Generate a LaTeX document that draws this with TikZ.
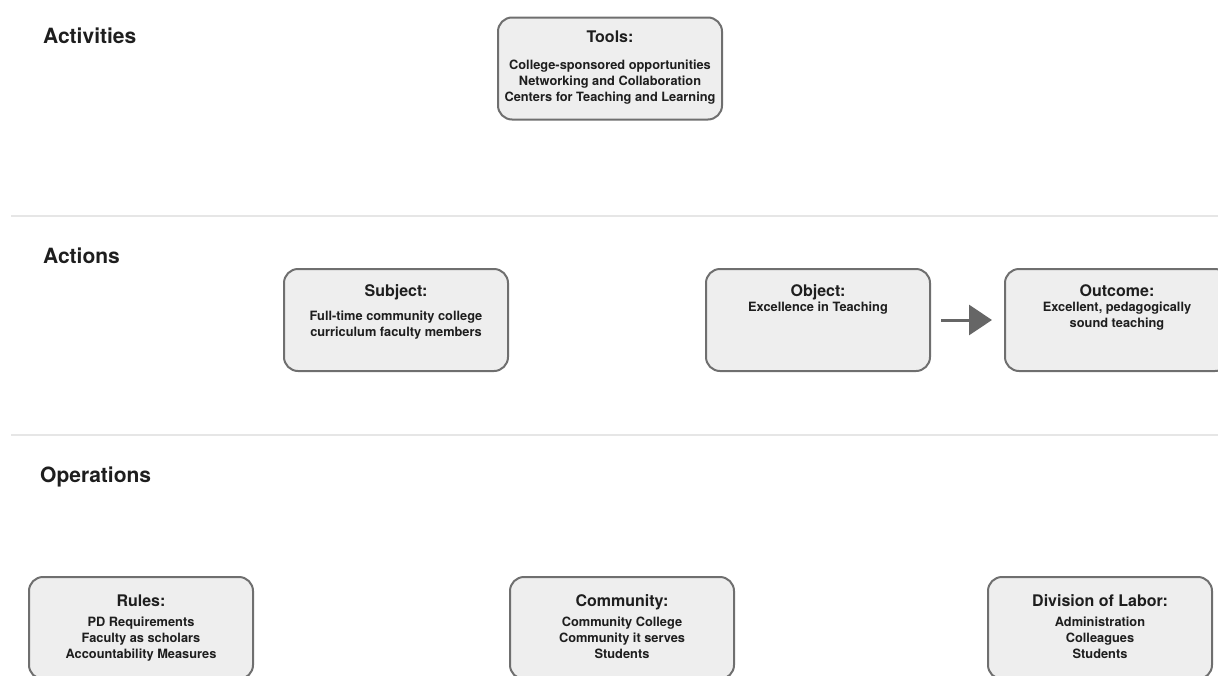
\documentclass[tikz,border=0pt]{standalone}
\usepackage{fontspec}
\setmainfont{TeX Gyre Heros}
\usetikzlibrary{arrows.meta}
\definecolor{boxfill}{HTML}{EEEEEE}
\definecolor{boxline}{HTML}{6F6F6F}
\definecolor{rulegray}{HTML}{E6E6E6}
\definecolor{arrowgray}{HTML}{666666}
\definecolor{inkgray}{HTML}{1E1E1E}

\begin{document}
\begin{tikzpicture}[x=1pt, y=-1pt,
		every node/.style={text=inkgray},
		actbox/.style={draw=boxline, fill=boxfill, line width=2pt,
			rounded corners=14pt, minimum width=224pt, minimum height=102pt},
		boxtitle/.style={anchor=base, inner sep=0pt,
			font=\fontsize{16}{19}\bfseries\selectfont},
		boxbody/.style={anchor=north, inner sep=0pt, align=center,
			font=\fontsize{12.8}{16}\bfseries\selectfont},
		level/.style={anchor=base west, inner sep=0pt,
			font=\fontsize{21}{25}\bfseries\selectfont},
		divider/.style={draw=rulegray, line width=2pt}]

		% The page is measured in pixels of the reference, y down.
		\clip (0,0) rectangle (1218,675);

		% Levels of the activity system and the lines between them.
		\node[level] (activities) at (43,43) {Activities};
		\node[level] (actions) at (43,263) {Actions};
		\node[level] (operations) at (40,482) {Operations};
		\coordinate (d1a) at (11,216);
		\coordinate (d1b) at (1218,216);
		\coordinate (d2a) at (11,434.5);
		\coordinate (d2b) at (1218,434.5);
		\draw[divider] (d1a) -- (d1b);
		\draw[divider] (d2a) -- (d2b);

		% Top row.
		\node[actbox] (tools) at (610,68.5) {};
		\node[boxtitle] (tools-t) at ([yshift=-26pt]tools.north) {Tools:};
		\node[boxbody] (tools-b) at ([yshift=-43pt]tools.north)
			{College-sponsored opportunities\\Networking and Collaboration\\Centers for Teaching and Learning};

		% Middle row.
		\node[actbox] (subject) at (396,320) {};
		\node[boxtitle] (subject-t) at ([yshift=-28pt]subject.north) {Subject:};
		\node[boxbody] (subject-b) at ([yshift=-43pt]subject.north)
			{Full-time community college\\curriculum faculty members};

		\node[actbox] (object) at (818,320) {};
		\node[boxtitle] (object-t) at ([yshift=-28pt]object.north) {Object:};
		\node[boxbody] (object-b) at ([yshift=-34pt]object.north)
			{Excellence in Teaching};

		\node[actbox] (outcome) at (1117,320) {};
		\node[boxtitle] (outcome-t) at ([yshift=-28pt]outcome.north) {Outcome:};
		\node[boxbody] (outcome-b) at ([yshift=-34pt]outcome.north)
			{Excellent, pedagogically\\sound teaching};

		\draw[arrowgray, line width=3pt,
			-{Triangle[length=23pt, width=30pt]}]
			([xshift=10pt]object.east) -- ([xshift=-12pt]outcome.west);

		% Bottom row, cut off by the lower edge.
		\node[actbox] (rules) at (141,628) {};
		\node[boxtitle] (rules-t) at ([yshift=-30pt]rules.north) {Rules:};
		\node[boxbody] (rules-b) at ([yshift=-41pt]rules.north)
			{PD Requirements\\Faculty as scholars\\Accountability Measures};

		\node[actbox] (community) at (622,628) {};
		\node[boxtitle] (community-t) at ([yshift=-30pt]community.north) {Community:};
		\node[boxbody] (community-b) at ([yshift=-41pt]community.north)
			{Community College\\Community it serves\\Students};

		\node[actbox] (labor) at (1100,628) {};
		\node[boxtitle] (labor-t) at ([yshift=-30pt]labor.north) {Division of Labor:};
		\node[boxbody] (labor-b) at ([yshift=-41pt]labor.north)
			{Administration\\Colleagues\\Students};
	\end{tikzpicture}
\end{document}
